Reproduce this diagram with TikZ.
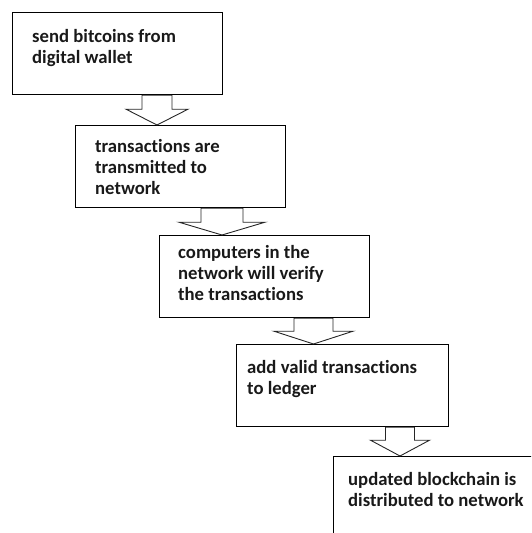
\documentclass[tikz,border=0pt]{standalone}
\usepackage{fontspec}
\setmainfont{Carlito}[Ligatures={NoCommon}]
\usetikzlibrary{calc}
\tikzset{
  box/.style={draw=black, line width=1.2pt, rectangle, anchor=north west, inner sep=0pt},
  txt/.style={anchor=base west, align=left, inner sep=0pt, font=\bfseries\fontsize{18.7}{21}\selectfont, text=black!90},
  barrow/.style={draw=black!85, line width=0.9pt, line join=miter}
}
\newcommand\blockarrow[5]{%
  \draw[barrow] ($(#1)+(-#3,0)$) -- ($(#1)+(-#3,-#5)$) -- ($(#1)+(-#4,-#5)$) -- (#2)
    -- ($(#1)+(#4,-#5)$) -- ($(#1)+(#3,-#5)$) -- ($(#1)+(#3,0)$) -- cycle;}
\begin{document}
\begin{tikzpicture}[x=1pt,y=1pt]
\useasboundingbox (0,0) rectangle (531,-533);
\clip (0,0) rectangle (531,-533);
\node[box, minimum width=210pt, minimum height=82pt] (b1) at (12,-12) {};
\node[box, minimum width=210pt, minimum height=82pt] (b2) at (75,-125) {};
\node[box, minimum width=210pt, minimum height=82pt] (b3) at (159,-235) {};
\node[box, minimum width=212pt, minimum height=82pt] (b4) at (236,-344) {};
\node[box, minimum width=240pt, minimum height=120pt] (b5) at (333,-456) {};
\node[txt] (t1) at (32,-63) {send bitcoins from\\digital wallet};
\node[txt] (t2) at (95,-194) {transactions are\\transmitted to\\network};
\node[txt] (t3) at (178,-300) {computers in the\\network will verify\\the transactions};
\node[txt] (t4) at (247,-394) {add valid transactions\\to ledger};
\node[txt] (t5) at (348,-506) {updated blockchain is\\distributed to network};
\coordinate (s1) at (157,0 |- b1.south);
\coordinate (e1) at (157,0 |- b2.north);
\coordinate (s2) at (222,0 |- b2.south);
\coordinate (e2) at (222,0 |- b3.north);
\coordinate (s3) at (313.5,0 |- b3.south);
\coordinate (e3) at (313.5,0 |- b4.north);
\coordinate (s4) at (400,0 |- b4.south);
\coordinate (e4) at (400,0 |- b5.north);
\blockarrow{s1}{e1}{15}{31}{14}
\blockarrow{s2}{e2}{21}{43}{14}
\blockarrow{s3}{e3}{19.5}{39.5}{13}
\blockarrow{s4}{e4}{14.5}{29.5}{13}
\end{tikzpicture}
\end{document}
